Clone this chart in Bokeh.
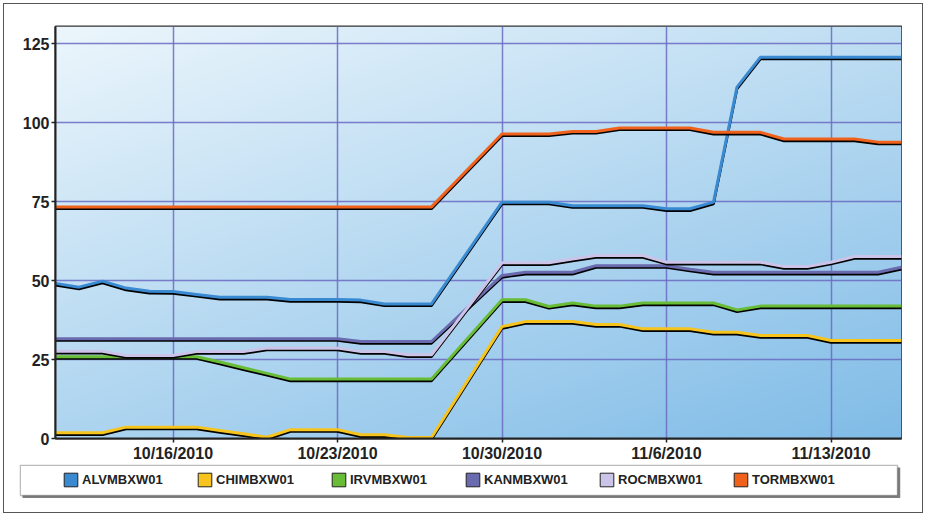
import numpy as np
import pandas as pd
from bokeh.plotting import figure
from bokeh.layouts import column
from bokeh.models import (Range1d, FixedTicker, CustomJSTickFormatter, Legend,
                          LegendItem, ColumnDataSource, BoxAnnotation)
from bokeh.transform import dodge
from bokeh.embed import file_html
from bokeh.resources import INLINE

# ---------------- data ----------------
dates = ["2010-10-11", "2010-10-12", "2010-10-13", "2010-10-14", "2010-10-15",
         "2010-10-16", "2010-10-17", "2010-10-18", "2010-10-19", "2010-10-20",
         "2010-10-21", "2010-10-22", "2010-10-23", "2010-10-24", "2010-10-25",
         "2010-10-26", "2010-10-27",
         "2010-10-30", "2010-10-31", "2010-11-01", "2010-11-02", "2010-11-03",
         "2010-11-04", "2010-11-05", "2010-11-06", "2010-11-07", "2010-11-08",
         "2010-11-09", "2010-11-10", "2010-11-11", "2010-11-12", "2010-11-13",
         "2010-11-14", "2010-11-15", "2010-11-16"]

ALVMBXW01 = [49.1, 47.9, 49.8, 47.6, 46.6, 46.5, 45.6, 44.7, 44.7, 44.7, 44.0, 44.0,
             44.0, 43.8, 42.6, 42.6, 42.6,
             74.8, 74.8, 74.8, 73.7, 73.7, 73.7, 73.7, 72.7, 72.7, 74.8, 111.2, 120.7,
             120.7, 120.7, 120.7, 120.7, 120.7, 120.7]
CHIMBXW01 = [1.8, 1.8, 1.8, 3.6, 3.6, 3.6, 3.6, 2.5, 1.5, 0.4, 2.8, 2.8,
             2.8, 1.2, 1.2, 0.3, 0.3,
             35.4, 37.0, 37.0, 37.0, 36.1, 36.1, 34.7, 34.7, 34.7, 33.6, 33.6, 32.6,
             32.6, 32.6, 31.0, 31.0, 31.0, 31.0]
IRVMBXW01 = [25.9, 25.9, 25.9, 25.9, 25.9, 25.9, 25.9, 24.2, 22.4, 20.6, 18.8, 18.8,
             18.8, 18.8, 18.8, 18.8, 18.8,
             43.9, 43.9, 41.8, 42.9, 41.9, 41.9, 42.9, 42.9, 42.9, 42.9, 40.7, 41.9,
             41.9, 41.9, 41.9, 41.9, 41.9, 41.9]
KANMBXW01 = [31.6, 31.6, 31.6, 31.6, 31.6, 31.6, 31.6, 31.6, 31.6, 31.6, 31.6, 31.6,
             31.6, 30.7, 30.7, 30.7, 30.7,
             51.6, 52.6, 52.6, 52.6, 54.7, 54.7, 54.7, 54.7, 53.6, 52.6, 52.6, 52.6,
             52.6, 52.6, 52.6, 52.6, 52.6, 54.2]
ROCMBXW01 = [27.6, 27.6, 27.6, 26.3, 26.3, 26.3, 27.5, 27.5, 27.5, 28.6, 28.6, 28.6,
             28.6, 27.5, 27.5, 26.5, 26.5,
             55.6, 55.6, 55.6, 56.8, 57.9, 57.9, 57.9, 55.8, 55.8, 55.8, 55.8, 55.8,
             54.4, 54.4, 55.8, 57.6, 57.6, 57.6]
TORMBXW01 = [73.3, 73.3, 73.3, 73.3, 73.3, 73.3, 73.3, 73.3, 73.3, 73.3, 73.3, 73.3,
             73.3, 73.3, 73.3, 73.3, 73.3,
             96.4, 96.4, 96.4, 97.2, 97.2, 98.3, 98.3, 98.3, 98.3, 96.9, 96.9, 96.9,
             94.8, 94.8, 94.8, 94.8, 93.8, 93.8]

series_names = ["ALVMBXW01", "CHIMBXW01", "IRVMBXW01", "KANMBXW01", "ROCMBXW01", "TORMBXW01"]
series_values = [ALVMBXW01, CHIMBXW01, IRVMBXW01, KANMBXW01, ROCMBXW01, TORMBXW01]
series_colors = ["#3a8ad2", "#f6c41c", "#68bc36", "#6a6aae", "#cbc4e8", "#f0621c"]

tick_dates = ["2010-10-16", "2010-10-23", "2010-10-30", "2010-11-06", "2010-11-13"]
y_ticks = [0, 25, 50, 75, 100, 125]
x_start, x_end = "2010-10-11", "2010-11-16"
y_min, y_max = 0, 130.4

# ---------------- main chart ----------------
FONT = "Liberation Sans"
xs = pd.Timestamp(x_start)
xe = pd.Timestamp(x_end)

LEFT, RIGHT = 36, 1          # plot borders (shared by both figures of the column)
COL_W = 920                  # inner width of the outer bordered box
p = figure(frame_width=846, frame_height=412,
           x_axis_type="datetime",
           x_range=Range1d(xs, xe), y_range=Range1d(y_min, y_max),
           output_backend="svg", toolbar_location=None,
           min_border_left=LEFT, min_border_right=RIGHT,
           min_border_top=22, min_border_bottom=25)
p.margin = (0, COL_W - 15 - (LEFT + 846 + RIGHT), 0, 15)
p.border_fill_color = "white"
p.outline_line_color = "#333333"
p.outline_line_width = 2

# gradient background of the plot area (style only)
H, W = 103, 212
u = np.linspace(0, 1, W)[None, :]
vt = np.linspace(1, 0, H)[:, None]
t = 0.42 * u + 0.58 * vt
light = np.array([236, 246, 252], dtype=float)
dark = np.array([128, 188, 231], dtype=float)
rgb = light[None, None, :] + (dark - light)[None, None, :] * t[..., None]
img = np.empty((H, W), dtype=np.uint32)
view = img.view(dtype=np.uint8).reshape((H, W, 4))
view[..., :3] = rgb.astype(np.uint8)
view[..., 3] = 255
start_ms = xs.value / 1e6
span_ms = (xe.value - xs.value) / 1e6
p.image_rgba(image=[img], x=[start_ms], y=[y_min], dw=[span_ms], dh=[y_max - y_min], level="image")

# grid
tick_ms = [pd.Timestamp(d).value / 1e6 for d in tick_dates]
p.xgrid.ticker = FixedTicker(ticks=tick_ms)
p.ygrid.ticker = FixedTicker(ticks=y_ticks)
p.grid.grid_line_color = "#6a6ac2"
p.grid.grid_line_alpha = 0.85
p.grid.grid_line_width = 1.5

# axes
p.xaxis.ticker = FixedTicker(ticks=tick_ms)
p.xaxis.formatter = CustomJSTickFormatter(code="""
const d = new Date(tick);
return (d.getUTCMonth() + 1) + "/" + d.getUTCDate() + "/" + d.getUTCFullYear();
""")
p.yaxis.ticker = FixedTicker(ticks=y_ticks)
for ax in (p.xaxis, p.yaxis):
    ax.axis_line_color = "#222222"
    ax.axis_line_width = 2
    ax.major_tick_line_color = "#222222"
    ax.major_tick_line_width = 1.5
    ax.major_tick_out = 4
    ax.major_tick_in = 0
    ax.minor_tick_line_color = None
    ax.major_label_text_font = FONT
    ax.major_label_text_font_style = "bold"
    ax.major_label_text_font_size = "16px"
    ax.major_label_text_color = "#222222"
p.xaxis.major_label_standoff = 2
p.yaxis.major_label_standoff = 2

# data lines with a dark drop shadow
df = pd.DataFrame({"date": pd.to_datetime(dates)})
for n, v in zip(series_names, series_values):
    df[n] = v
src = ColumnDataSource(df)
shadow = 0.6
for n, c in zip(series_names, series_colors):
    p.line("date", dodge(n, -shadow), source=src, line_color="black", line_width=2.6)
    p.line("date", n, source=src, line_color=c, line_width=3)

# ---------------- legend strip (a second, axis-less figure) ----------------
BOX_W, BOX_H, SH = 880, 31, 3
FW, FH = BOX_W + SH, BOX_H + SH
lg = figure(width=LEFT + FW + RIGHT, height=FH,
            x_range=Range1d(0, FW), y_range=Range1d(FH, 0),
            x_axis_location=None, y_axis_location=None,
            output_backend="svg", toolbar_location=None,
            min_border_left=LEFT, min_border_right=RIGHT,
            min_border_top=0, min_border_bottom=0)
lg.grid.visible = False
lg.background_fill_color = "white"
lg.border_fill_alpha = 0
lg.outline_line_alpha = 0
lg.margin = (0, 0, 14, 15 - LEFT)

# box shadow + box
lg.add_layout(BoxAnnotation(left=SH, right=BOX_W + SH, top=SH, bottom=BOX_H + SH,
                            fill_color="#555555", fill_alpha=0.75, line_alpha=0))
lg.add_layout(BoxAnnotation(left=0.75, right=BOX_W, top=0.75, bottom=BOX_H,
                            fill_color="white", fill_alpha=1,
                            line_color="#222222", line_width=1.5))

items = []
for n, c in zip(series_names, series_colors):
    sw = lg.quad(left=[np.nan], right=[np.nan], top=[np.nan], bottom=[np.nan],
                 fill_color=c, line_color="#222222", line_width=1)
    items.append(LegendItem(label=n, renderers=[sw]))

legend = Legend(items=items, orientation="horizontal", location=(43, 10),
                padding=0, margin=0, spacing=6, glyph_width=17, glyph_height=17,
                label_standoff=3, label_width=108,
                label_text_font=FONT, label_text_font_style="bold",
                label_text_font_size="13px", label_text_color="#222222",
                border_line_alpha=0, background_fill_alpha=0)
lg.add_layout(legend, "center")

layout = column(p, lg, spacing=0, width=COL_W)
layout.margin = (3, 0, 0, 3)
layout.styles = {"border": "1px solid #555555"}

open("out.html", "w").write(file_html(layout, INLINE))
